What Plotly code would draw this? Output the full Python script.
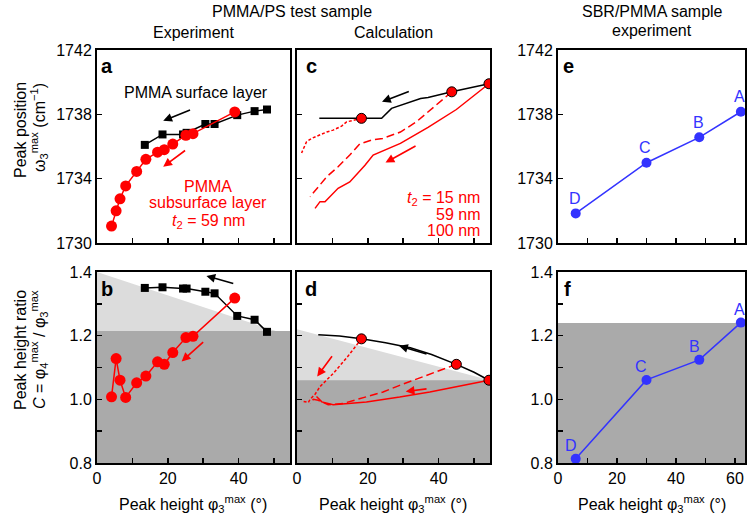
import plotly.graph_objects as go

W, H = 750, 521
OFF = 0  # body margin is reset to 0 by the post_script below
FONT = "Liberation Sans, Arial, sans-serif"
RED = "#ff0000"
BLUE = "#3333ff"
LIGHT = "#dcdcdc"
DARK = "#aaaaaa"

# ---------------- data ----------------
# panel a / b : experiment PMMA/PS
a_black_x = [13.5, 18.5, 24.3, 25.3, 30.6, 33.2, 39.6, 44.5, 48.0]
a_black_y = [1736.1, 1736.75, 1736.75, 1736.85, 1737.4, 1737.4, 1737.95, 1738.2, 1738.3]
b_black_y = [1.35, 1.352, 1.348, 1.348, 1.338, 1.333, 1.262, 1.25, 1.212]

a_red_x = [4.1, 5.4, 6.5, 8.1, 11.2, 13.8, 17.1, 19.0, 21.4, 25.1, 27.1, 38.9]
a_red_y = [1731.05, 1732.0, 1732.75, 1733.55, 1734.45, 1735.2, 1735.65, 1735.8, 1736.15, 1736.7, 1736.8, 1738.15]
b_red_y = [1.008, 1.128, 1.06, 1.006, 1.052, 1.073, 1.118, 1.11, 1.147, 1.194, 1.198, 1.318]

# panel c : calculation, peak position
c_black_x = [6.3, 18.2, 23.9, 26.7, 32.1, 34.9, 37.0, 43.7, 54.2]
c_black_y = [1737.75, 1737.75, 1737.75, 1738.37, 1738.78, 1738.98, 1739.05, 1739.4, 1739.9]
c_circ_x = [18.2, 43.7, 54.2]
c_circ_y = [1737.75, 1739.4, 1739.9]
c_15_x = [18.2, 14.0, 12.6, 10.2, 8.4, 6.0, 4.1, 2.7, 1.8, 1.3]
c_15_y = [1737.75, 1737.53, 1737.27, 1737.02, 1736.9, 1736.7, 1736.5, 1736.3, 1735.9, 1735.6]
c_59_x = [43.7, 39.0, 33.7, 29.2, 24.2, 21.0, 17.7, 14.9, 11.6, 8.4, 6.0, 3.7]
c_59_y = [1739.4, 1738.5, 1737.53, 1736.9, 1736.5, 1736.4, 1736.15, 1735.47, 1734.74, 1734.12, 1733.5, 1732.88]
c_100_x = [54.2, 45.0, 37.0, 29.2, 21.5, 19.2, 14.9, 11.6, 7.9, 6.5, 5.1]
c_100_y = [1739.9, 1738.3, 1737.19, 1736.19, 1735.47, 1734.84, 1733.8, 1733.4, 1732.57, 1732.57, 1732.15]

# panel d : calculation, peak height ratio
d_black_x = [6.0, 12.0, 18.2, 25.0, 32.0, 38.0, 45.0, 50.0, 54.2]
d_black_y = [1.203, 1.199, 1.19, 1.178, 1.162, 1.141, 1.11, 1.085, 1.06]
d_circ_x = [18.2, 45.0, 54.2]
d_circ_y = [1.19, 1.11, 1.06]
d_15_x = [18.2, 14.0, 10.2, 6.5, 5.1, 3.7, 3.2, 1.3]
d_15_y = [1.19, 1.13, 1.081, 1.04, 1.016, 1.0, 0.99, 0.995]
d_59_x = [45.0, 37.5, 29.0, 24.3, 18.0, 13.0, 8.8, 6.0, 4.6, 3.7]
d_59_y = [1.11, 1.08, 1.044, 1.023, 1.003, 0.987, 0.983, 0.997, 1.0, 0.987]
d_100_x = [54.2, 45.0, 37.5, 29.0, 19.6, 10.2, 7.0, 5.5]
d_100_y = [1.06, 1.04, 1.023, 1.007, 0.992, 0.983, 0.992, 1.009]

# panel e / f : SBR/PMMA
ef_x = [6.0, 30.0, 47.9, 62.0]
e_y = [1731.84, 1734.99, 1736.57, 1738.16]
f_y = [0.813, 1.061, 1.124, 1.241]
ef_labels = ["D", "C", "B", "A"]

# shading boundaries
b_line = (1.40, 1.20)
b_dark = 1.215
d_line = (1.22, 1.06)
d_dark = 1.06
f_dark = 1.24

XMAX = 54.5
XMAX_EF = 63.4

# ---------------- layout geometry (window pixels -> paper) ----------------
def px_x(p):
    return (p - OFF) / W

def px_y(p):
    return 1 - (p - OFF) / H

def dx(p0, p1):
    return [px_x(p0), px_x(p1)]

def dy(p0, p1):
    return [px_y(p1), px_y(p0)]

col_x = {1: dx(97, 290), 2: dx(297, 490), 3: dx(558, 745)}
row_y = {1: dy(50, 243), 2: dy(272, 463)}

fig = go.Figure()

TICKC = dict(ticks="inside", ticklen=5, tickwidth=1.5, tickcolor="black")
axis_common = dict(showline=True, linecolor="black", linewidth=2, mirror=True,
                   showgrid=False, zeroline=False, automargin=False,
                   tickfont=dict(family=FONT, size=16, color="black"), **TICKC)

# axis index -> (column, row): 1=a, 2=c, 3=b, 4=d, 5=e, 6=f
panels = {1: (1, 1), 2: (2, 1), 3: (1, 2), 4: (2, 2), 5: (3, 1), 6: (3, 2)}
for i, (c, r) in panels.items():
    xs = "xaxis" if i == 1 else f"xaxis{i}"
    ys = "yaxis" if i == 1 else f"yaxis{i}"
    xr = [0, XMAX] if c < 3 else [0, XMAX_EF]
    xa = dict(axis_common, domain=col_x[c], anchor=("y" if i == 1 else f"y{i}"),
              range=xr, dtick=20, tick0=0, showticklabels=(r == 2),
              minor=dict(dtick=10, **TICKC))
    if r == 1:
        ya = dict(axis_common, domain=row_y[r], anchor=("x" if i == 1 else f"x{i}"),
                  range=[1730, 1742], dtick=4, tick0=1730, showticklabels=(c != 2))
    else:
        ya = dict(axis_common, domain=row_y[r], anchor=("x" if i == 1 else f"x{i}"),
                  range=[0.8, 1.4], dtick=0.2, tick0=0.8, tickformat=".1f",
                  showticklabels=(c != 2), minor=dict(dtick=0.1, **TICKC))
    fig.layout[xs] = xa
    fig.layout[ys] = ya


def ax(i):
    return ("x", "y") if i == 1 else (f"x{i}", f"y{i}")


def line(i, x, y, color, width=1.5, dash="solid", mode="lines", marker=None):
    xa, ya = ax(i)
    fig.add_trace(go.Scatter(x=x, y=y, xaxis=xa, yaxis=ya, mode=mode,
                             line=dict(color=color, width=width, dash=dash),
                             marker=marker, showlegend=False, hoverinfo="skip"))


def poly(i, pts, color):
    xa, ya = ax(i)
    path = "M " + " L ".join(f"{px},{py}" for px, py in pts) + " Z"
    fig.add_shape(type="path", path=path, xref=xa, yref=ya, fillcolor=color,
                  line=dict(width=0), layer="below")

# shading
poly(3, [(0, b_line[0]), (XMAX, b_line[1]), (XMAX, 0.8), (0, 0.8)], LIGHT)
poly(3, [(0, b_dark), (XMAX, b_dark), (XMAX, 0.8), (0, 0.8)], DARK)
poly(4, [(0, d_line[0]), (XMAX, d_line[1]), (XMAX, 0.8), (0, 0.8)], LIGHT)
poly(4, [(0, d_dark), (XMAX, d_dark), (XMAX, 0.8), (0, 0.8)], DARK)
poly(6, [(0, f_dark), (XMAX_EF, f_dark), (XMAX_EF, 0.8), (0, 0.8)], DARK)

SQ = dict(symbol="square", size=8, color="black")
RC = dict(symbol="circle", size=11, color=RED)
RCO = dict(symbol="circle", size=10, color=RED, line=dict(color="black", width=1))
BC = dict(symbol="circle", size=10, color=BLUE)

# panel a
line(1, a_black_x, a_black_y, "black", mode="lines+markers", marker=SQ)
line(1, a_red_x, a_red_y, RED, mode="lines+markers", marker=RC)
# panel b
line(3, a_black_x, b_black_y, "black", mode="lines+markers", marker=SQ)
line(3, a_red_x, b_red_y, RED, mode="lines+markers", marker=RC)
# panel c
line(2, c_15_x, c_15_y, RED, dash="3px,2px")
line(2, c_59_x, c_59_y, RED, dash="8px,4px")
line(2, c_100_x, c_100_y, RED)
line(2, c_black_x, c_black_y, "black")
line(2, c_circ_x, c_circ_y, RED, mode="markers", marker=RCO)
# panel d
line(4, d_15_x, d_15_y, RED, dash="3px,2px")
line(4, d_59_x, d_59_y, RED, dash="8px,4px")
line(4, d_100_x, d_100_y, RED)
line(4, d_black_x, d_black_y, "black")
line(4, d_circ_x, d_circ_y, RED, mode="markers", marker=RCO)
# panel e / f
line(5, ef_x, e_y, BLUE, mode="lines+markers", marker=BC)
line(6, ef_x, f_y, BLUE, mode="lines+markers", marker=BC)

ann = []


def text(x, y, s, size=16, color="black", xanchor="center", yanchor="middle", angle=0, bold=False):
    if bold:
        s = f"<b>{s}</b>"
    ann.append(dict(x=px_x(x), y=px_y(y), xref="paper", yref="paper", text=s,
                    showarrow=False, xanchor=xanchor, yanchor=yanchor, textangle=angle,
                    font=dict(family=FONT, size=size, color=color)))


def arrow(i, x0, y0, x1, y1, color):
    xa, ya = ax(i)
    ann.append(dict(x=x1, y=y1, ax=x0, ay=y0, xref=xa, yref=ya, axref=xa, ayref=ya,
                    text="", showarrow=True, arrowhead=2, arrowsize=1.1, arrowwidth=1.6,
                    arrowcolor=color, standoff=0, startstandoff=0))

# headers
text(292, 11, "PMMA/PS test sample")
text(193, 32, "Experiment")
text(393, 32, "Calculation")
text(652, 11, "SBR/PMMA sample")
text(652, 31, "experiment")

# panel letters
for (px, py, s) in [(107, 66, "a"), (107, 289, "b"), (311, 66, "c"), (311, 289, "d"),
                    (568, 66, "e"), (567, 289, "f")]:
    text(px, py, s, size=20, bold=True)

# y titles
text(20, 130, "Peak position", angle=-90)
text(39, 128, "ω<sub>3</sub><sup>max</sup> (cm<sup>−1</sup>)", angle=-90)
text(20, 350, "Peak height ratio", angle=-90)
text(39, 350, "<i>C</i> = φ<sub>4</sub><sup>max</sup> / φ<sub>3</sub><sup>max</sup>", angle=-90)

# x titles
for cx in (193, 393, 652):
    text(cx, 504, "Peak height φ<sub>3</sub><sup>max</sup> (°)")

# panel a texts
text(196, 92, "PMMA surface layer")
text(208, 187, "PMMA", color=RED)
text(208, 203, "subsurface layer", color=RED)
text(208, 221, "<i>t</i><sub>2</sub> = 59 nm", color=RED)

# panel c texts
text(482, 198, "<i>t</i><sub>2</sub> = 15 nm", color=RED, xanchor="right")
text(482, 214, "59 nm", color=RED, xanchor="right")
text(482, 230, "100 nm", color=RED, xanchor="right")

# blue labels
for x, y, s in zip(ef_x, e_y, ef_labels):
    ann.append(dict(x=x, y=y, xref="x5", yref="y5", text=s, showarrow=False,
                    yshift=15, xshift=-1, font=dict(family=FONT, size=16, color=BLUE)))
for x, y, s in zip(ef_x, f_y, ef_labels):
    ann.append(dict(x=x, y=y, xref="x6", yref="y6", text=s, showarrow=False,
                    yshift=13, xshift=(-5 if s != "A" else -1),
                    font=dict(family=FONT, size=16, color=BLUE)))

# arrows
arrow(1, 26.7, 1738.3, 18.7, 1737.6, "black")
arrow(1, 25.3, 1735.82, 18.7, 1734.74, RED)
arrow(3, 38.9, 1.3625, 30.9, 1.3875, "black")
arrow(3, 30.4, 1.184, 23.9, 1.119, RED)
arrow(2, 32.0, 1739.46, 24.0, 1738.78, "black")
arrow(2, 33.9, 1736.08, 25.0, 1735.0, RED)
arrow(4, 37.0, 1.141, 28.8, 1.168, "black")
arrow(4, 10.2, 1.14, 5.7, 1.072, RED)
arrow(4, 37.0, 1.0335, 30.7, 1.0247, RED)

fig.update_layout(width=W, height=H,
                  margin=dict(l=0, r=0, t=0, b=0, pad=0, autoexpand=False),
                  paper_bgcolor="white", plot_bgcolor="white",
                  annotations=ann, showlegend=False,
                  font=dict(family=FONT, size=16, color="black"))

fig.write_html("out.html",
               config={"displayModeBar": False, "staticPlot": True},
               post_script="document.body.style.margin='0px';document.body.style.overflow='hidden';")
